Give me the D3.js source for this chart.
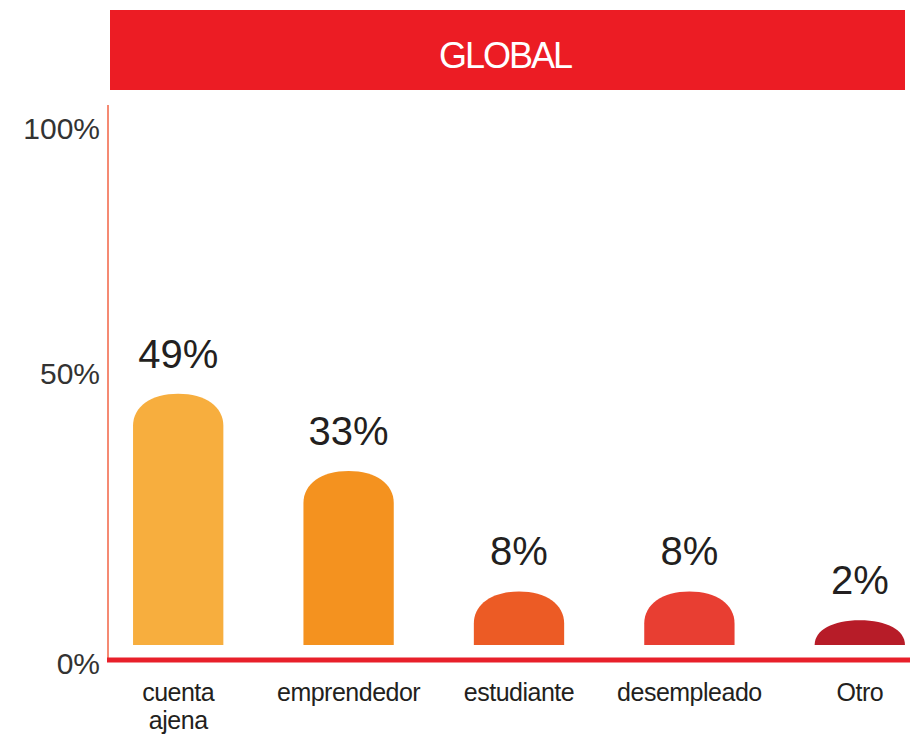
<!DOCTYPE html>
<html>
<head>
<meta charset="utf-8">
<script src="https://cdn.jsdelivr.net/npm/d3@7"></script>
<style>
  body { margin: 0; background: #fff; }
  svg { display: block; font-family: "Liberation Sans", Arial, sans-serif; }
</style>
</head>
<body>
<svg id="chart"></svg>
<script>
    var categories = ["cuenta ajena", "emprendedor", "estudiante", "desempleado", "Otro"];
    var values = [49, 33, 8, 8, 2];
    var barColors = ["#f7ae3e", "#f4921f", "#ec5b25", "#e83e32", "#b71c28"];
    var yTicks = [0, 50, 100];
    var title = "GLOBAL";

    var width = 910, height = 738;
    var baseY = 645;

    var svg = d3.select("#chart")
        .attr("width", width)
        .attr("height", height);

    // cabecera roja
    svg.append("rect")
        .attr("x", 110).attr("y", 10)
        .attr("width", 795).attr("height", 80)
        .attr("fill", "#ec1c24");
    svg.append("text")
        .attr("x", 505).attr("y", 68)
        .attr("text-anchor", "middle")
        .attr("fill", "#fff")
        .attr("font-size", 36)
        .attr("letter-spacing", -2)
        .text(title);

    var x = d3.scaleBand()
        .domain(categories)
        .range([93, 945])
        .paddingInner(0.47)
        .paddingOuter(0.235);

    var y = d3.scaleLinear()
        .domain([0, 100])
        .range([630, 148]);

    // escala de las etiquetas del eje (no lineal en el original)
    var yTick = d3.scaleLinear()
        .domain([0, 50, 100])
        .range([663, 373, 128]);

    // eje vertical
    svg.append("line")
        .attr("x1", 108).attr("x2", 108)
        .attr("y1", 105).attr("y2", 660)
        .attr("stroke", "#f58a73")
        .attr("stroke-width", 2);

    svg.selectAll(".ytick")
        .data(yTicks)
        .enter().append("text")
        .attr("class", "ytick")
        .attr("x", 100)
        .attr("y", d => yTick(d))
        .attr("dy", "0.36em")
        .attr("text-anchor", "end")
        .attr("font-size", 30)
        .attr("fill", "#333")
        .text(d => d + "%");

    function barPath(d, i) {
        var x0 = x(categories[i]), bw = x.bandwidth(), x1 = x0 + bw;
        var top = y(d);
        var h = baseY - top;
        var ry = Math.min(h, 32);
        var k = 0.4;
        return "M" + x0 + "," + baseY +
            "L" + x0 + "," + (top + ry) +
            "C" + x0 + "," + (top + ry * k) + " " + (x0 + bw / 2 * k) + "," + top + " " + (x0 + bw / 2) + "," + top +
            "C" + (x1 - bw / 2 * k) + "," + top + " " + x1 + "," + (top + ry * k) + " " + x1 + "," + (top + ry) +
            "L" + x1 + "," + baseY + "Z";
    }

    svg.selectAll(".bar")
        .data(values)
        .enter().append("path")
        .attr("class", "bar")
        .attr("d", barPath)
        .attr("fill", (d, i) => barColors[i]);

    svg.selectAll(".val")
        .data(values)
        .enter().append("text")
        .attr("class", "val")
        .attr("x", (d, i) => x(categories[i]) + x.bandwidth() / 2)
        .attr("y", d => y(d) - 26)
        .attr("text-anchor", "middle")
        .attr("font-size", 40)
        .attr("fill", "#231f20")
        .text(d => d + "%");

    // eje horizontal
    svg.append("line")
        .attr("x1", 107).attr("x2", 910)
        .attr("y1", 660).attr("y2", 660)
        .attr("stroke", "#e8202a")
        .attr("stroke-width", 5);

    var labels = svg.selectAll(".cat")
        .data(categories)
        .enter().append("text")
        .attr("class", "cat")
        .attr("text-anchor", "middle")
        .attr("font-size", 25)
        .attr("letter-spacing", -0.5)
        .attr("fill", "#231f20");

    labels.each(function(d) {
        var words = d == "cuenta ajena" ? d.split(" ") : [d];
        var cx = x(d) + x.bandwidth() / 2;
        d3.select(this).selectAll("tspan")
            .data(words)
            .enter().append("tspan")
            .attr("x", cx)
            .attr("y", (w, j) => 701 + j * 28)
            .text(w => w);
    });
</script>
</body>
</html>
